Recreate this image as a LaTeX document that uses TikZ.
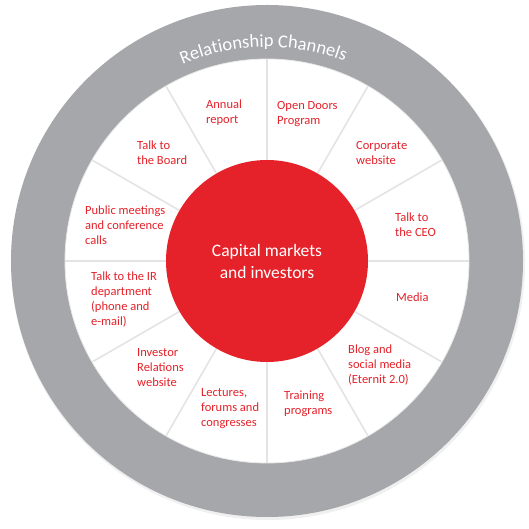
\documentclass[tikz,border=0pt]{standalone}
\usepackage{fontspec}
\setmainfont{Carlito}
\usetikzlibrary{decorations.text}
\definecolor{ringgrau}{RGB}{166,167,170}
\definecolor{kapitalrot}{RGB}{229,33,41}
\definecolor{speiche}{RGB}{228,228,229}

\begin{document}
\begin{tikzpicture}[
  x=1pt, y=1pt,
  kanal/.style={anchor=north west, inner sep=0pt, align=left, text=kapitalrot,
                font=\fontsize{12.5}{15}\selectfont},
  speichen/.style={speiche, line width=1.6pt},
  kern/.style={circle, fill=kapitalrot, minimum size=202pt, inner sep=0pt,
               text=white, align=center, font=\fontsize{17.5}{22}\selectfont}
]
\useasboundingbox (-267,-268) rectangle (262,261);

% ---------- Ring und Speichen ------------------------------------
\fill[gray!12] (1,-2) circle[radius=257];
\fill[ringgrau] (0,0) circle[radius=256];
\fill[white] (0,0) circle[radius=202];
\draw[gray!18, line width=0.8pt] (0,0) circle[radius=202];
\foreach \w in {0,30,...,330}
  \draw[speichen] (\w:100) -- (\w:201.5);

\path[decorate, decoration={text along path, text align=center,
  text={|\fontsize{18.5}{18.5}\selectfont\color{white}|Relationship Channels}}]
  (151:214) arc[start angle=151, end angle=31, radius=214];

% ---------- Kern -------------------------------------------------
\node[kern] (kapital) at (0,0) {Capital markets\\and investors};

% ---------- Kanaele, im Uhrzeigersinn ab oben --------------------
\node[kanal] (bericht)  at (-61,161)  {Annual\\report};
\node[kanal] (opendoor) at (10,160)   {Open Doors\\Program};
\node[kanal] (firmweb)  at (89,120)   {Corporate\\website};
\node[kanal] (ceo)      at (128,48)   {Talk to\\the CEO};
\node[kanal] (medien)   at (129,-32)  {Media};
\node[kanal] (blog)     at (81,-84)   {Blog and\\social media\\(Eternit 2.0)};
\node[kanal] (training) at (17,-130)  {Training\\programs};
\node[kanal] (vortrag)  at (-66,-127) {Lectures,\\forums and\\congresses};
\node[kanal] (irweb)    at (-130,-87) {Investor\\Relations\\website};
\node[kanal] (irabt)    at (-176,-11) {Talk to the IR\\department\\(phone and\\e-mail)};
\node[kanal] (treffen)  at (-182,55)  {Public meetings\\and conference\\calls};
\node[kanal] (vorstand) at (-130,120) {Talk to\\the Board};

\end{tikzpicture}
\end{document}
